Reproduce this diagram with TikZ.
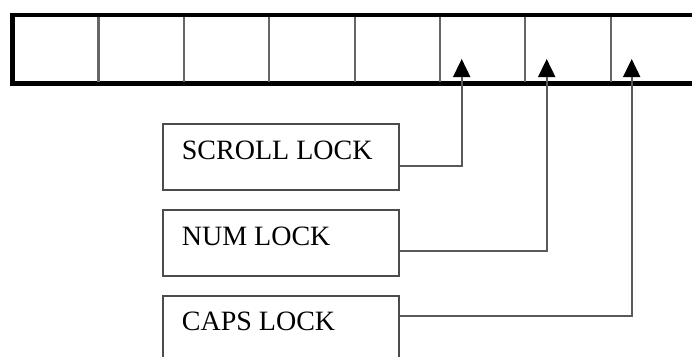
\documentclass[tikz,border=0pt]{standalone}
\usepackage{fontspec}
\setmainfont{Liberation Serif}
\usetikzlibrary{arrows.meta}
\begin{document}
\begin{tikzpicture}[x=1pt,y=-1pt,
  lockbox/.style={draw=black!70, line width=1.8pt, minimum width=236pt, minimum height=66pt, anchor=north west, inner sep=0pt},
  locktext/.style={anchor=base west, inner sep=0pt, font=\fontsize{28}{30}\selectfont},
  divider/.style={draw=black!60, line width=2.2pt},
  conn/.style={draw=black!65, line width=1.8pt, -{Triangle[width=17pt,length=18pt,black]}}]
\useasboundingbox (0,0) rectangle (692,356);
\clip (0,0) rectangle (692,356);
% register bar
\draw[line width=4.5pt] (12.5,83.5) -- (12.5,15) -- (700,15);
\draw[line width=4.5pt] (10.25,83.5) -- (700,83.5);
\foreach \x in {98.5,184,269,355,440,525,611}
  \draw[divider] (\x,16.5) -- (\x,82);
\coordinate (t1) at (461.7,59);
\coordinate (t2) at (546.7,59);
\coordinate (t3) at (631.7,59);
% boxes
\node[lockbox] (scroll) at (162,123.3) {};
\node[lockbox] (num) at (162,208.7) {};
\node[lockbox] (caps) at (162,295) {};
\node[locktext] (scrollt) at (181.7,159) {SCROLL LOCK};
\node[locktext] (numt) at (181.7,245) {NUM LOCK};
\node[locktext] (capst) at (181.7,330) {CAPS LOCK};
% connectors
\draw[conn] ([yshift=-43pt]scroll.north east) -| (t1);
\draw[conn] ([yshift=-42.3pt]num.north east) -| (t2);
\draw[conn] ([yshift=-21pt]caps.north east) -| (t3);
\end{tikzpicture}
\end{document}
